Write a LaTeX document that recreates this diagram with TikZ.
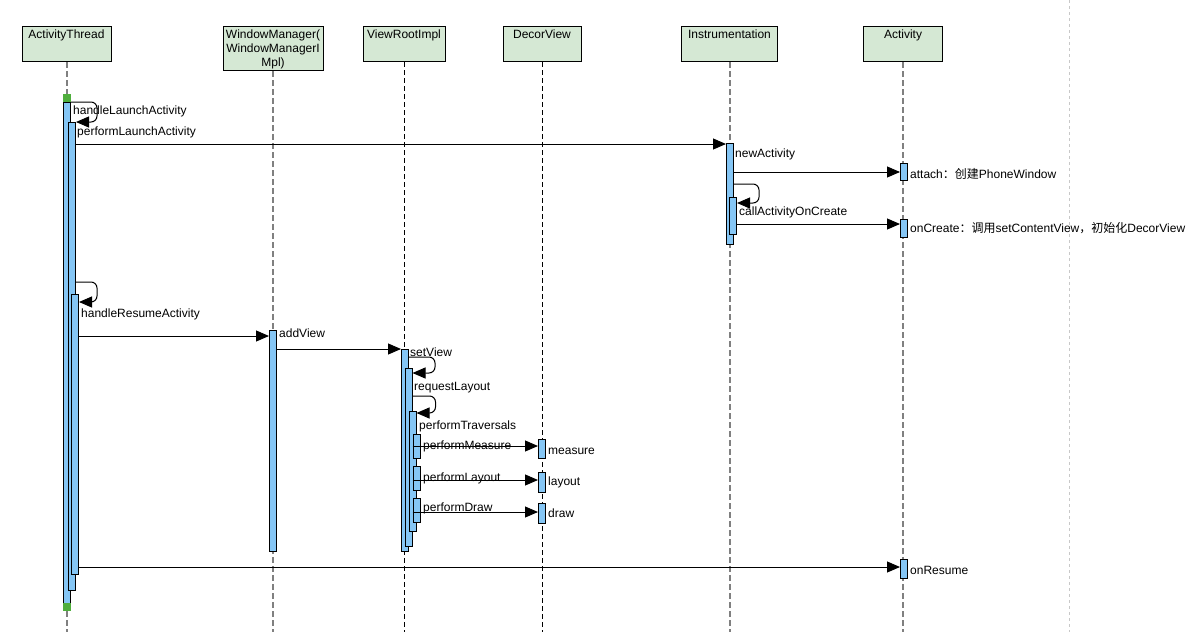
\documentclass[tikz,border=0pt]{standalone}
\usepackage{fontspec}
\setmainfont{Liberation Sans}
\newfontfamily\cjk{Noto Sans CJK SC}
\usetikzlibrary{arrows.meta,positioning}
\definecolor{headfill}{HTML}{D5E8D4}
\definecolor{barfill}{HTML}{85C6F5}
\definecolor{startgreen}{HTML}{4FAE3D}
\definecolor{lifegray}{HTML}{808080}
\definecolor{pagegray}{HTML}{C8C8C8}
\tikzset{
  head/.style={draw=black, fill=headfill, line width=1pt, anchor=north, inner sep=0pt},
  headtext/.style={anchor=north, align=center, inner sep=0pt, font=\fontsize{12}{14}\selectfont},
  bar/.style={draw=black, fill=barfill, line width=1pt, anchor=north, minimum width=7pt, inner sep=0pt},
  endmark/.style={fill=startgreen, minimum size=8pt, inner sep=0pt},
  lifeline/.style={draw=lifegray, line width=2pt, dash pattern=on 6pt off 3pt},
  lifethin/.style={draw=black, line width=0.8pt, dash pattern=on 5pt off 3pt},
  msg/.style={-{Triangle[length=13pt,width=11pt]}, line width=1pt, draw=black},
  selfmsg/.style={msg, rounded corners=6pt},
  lbl/.style={anchor=west, inner sep=0pt, yshift=-1.5pt, font=\fontsize{12}{14}\selectfont}
}

\begin{document}
\begin{tikzpicture}[x=1pt,y=-1pt]
  \useasboundingbox (0,0) rectangle (1201,632);

  % page edge
  \draw[draw=pagegray, line width=0.8pt, dash pattern=on 3pt off 3pt] (1069,0) -- (1069,632);

  % participants
  \node[head, minimum width=89, minimum height=35] (hAT) at (66.5,26) {};
  \node[headtext] (tAT) at (66.5,29.5) {ActivityThread};
  \node[head, minimum width=100, minimum height=44] (hWM) at (273,26) {};
  \node[headtext] (tWM) at (273,29.5) {WindowManager(\\WindowManagerI\\Mpl)};
  \node[head, minimum width=82, minimum height=35] (hVR) at (404,26) {};
  \node[headtext] (tVR) at (404,29.5) {ViewRootImpl};
  \node[head, minimum width=78, minimum height=35] (hDV) at (542,26) {};
  \node[headtext] (tDV) at (542,29.5) {DecorView};
  \node[head, minimum width=96, minimum height=35] (hIN) at (729.5,26) {};
  \node[headtext] (tIN) at (729.5,29.5) {Instrumentation};
  \node[head, minimum width=79, minimum height=35] (hAC) at (903,26) {};
  \node[headtext] (tAC) at (903,29.5) {Activity};

  % lifelines
  \draw[lifeline] (hAT.south) -- (hAT.south |- 0,632);
  \draw[lifeline] (hWM.south) -- (hWM.south |- 0,632);
  \draw[lifethin] (hVR.south) -- (hVR.south |- 0,632);
  \draw[lifethin] (hDV.south) -- (hDV.south |- 0,632);
  \draw[lifeline] (hIN.south) -- (hIN.south |- 0,632);
  \draw[lifeline] (hAC.south) -- (hAC.south |- 0,632);

  % activations
  \node[endmark, anchor=north] (gTop) at (67,94) {};
  \node[bar, minimum height=501] (at1) at (67,102) {};
  \node[endmark, anchor=north] (gBot) at (67,603) {};
  \node[bar, minimum height=468] (at2) at (72,122) {};
  \node[bar, minimum height=280] (at3) at (75,294) {};
  \node[bar, minimum height=221] (wm1) at (273,330) {};
  \node[bar, minimum height=202] (vr1) at (405,349) {};
  \node[bar, minimum height=178] (vr2) at (408.5,368) {};
  \node[bar, minimum height=120] (vr3) at (412.5,411) {};
  \node[bar, minimum height=24] (vm) at (416.5,434) {};
  \node[bar, minimum height=24] (vl) at (416.5,466) {};
  \node[bar, minimum height=24] (vd) at (416.5,498) {};
  \node[bar, minimum height=19] (dm) at (542,439) {};
  \node[bar, minimum height=20] (dl) at (542,472) {};
  \node[bar, minimum height=20] (dd) at (542,503) {};
  \node[bar, minimum height=101] (in1) at (730,143) {};
  \node[bar, minimum height=37] (in2) at (733,197) {};
  \node[bar, minimum height=17] (ac1) at (904,163) {};
  \node[bar, minimum height=18] (ac2) at (904,219) {};
  \node[bar, minimum height=19] (ac3) at (904,559) {};

  % messages
  \draw[selfmsg] (at1.north east) -- ++(26,0) |- (at2.north east);
  \node[lbl] (mLaunch) at (73,110) {handleLaunchActivity};
  \node[lbl] (mPerform) at (77,131) {performLaunchActivity};
  \draw[msg] (at2.east |- 0,144) -- (in1.west |- 0,144);
  \node[lbl] (mNew) at (735,153) {newActivity};
  \draw[msg] (in1.east |- 0,172) -- (ac1.west |- 0,172);
  \node[lbl] (mAttach) at (910,172) {attach{\cjk：创建}PhoneWindow};
  \draw[selfmsg] (in1.east |- 0,184) -- ++(25,0) |- (in2.east |- 0,203);
  \node[lbl] (mCall) at (739,211) {callActivityOnCreate};
  \draw[msg] (in2.east |- 0,224) -- (ac2.west |- 0,224);
  \node[lbl] (mCreate) at (910,227) {onCreate{\cjk：调用}setContentView{\cjk，初始化}DecorView};

  \draw[selfmsg] (at2.east |- 0,282) -- ++(21,0) |- (at3.east |- 0,302);
  \node[lbl] (mResume) at (81,313) {handleResumeActivity};
  \draw[msg] (at3.east |- 0,336) -- (wm1.west |- 0,336);
  \node[lbl] (mAdd) at (279,332) {addView};
  \draw[msg] (wm1.east |- 0,349) -- (vr1.west |- 0,349);
  \node[lbl] (mSet) at (410,351) {setView};
  \draw[selfmsg] (vr1.east |- 0,357) -- ++(26,0) |- (vr2.east |- 0,373);
  \node[lbl] (mReq) at (414,386) {requestLayout};
  \draw[selfmsg] (vr2.east |- 0,396) -- ++(23,0) |- (vr3.east |- 0,413);
  \node[lbl] (mTrav) at (419,425) {performTraversals};

  \node[lbl] (mPM) at (423,445) {performMeasure};
  \draw[msg] (vm.west |- 0,446) -- (dm.west |- 0,446);
  \node[lbl] (mM) at (548,450) {measure};
  \node[lbl] (mPL) at (423,477) {performLayout};
  \draw[msg] (vl.west |- 0,480) -- (dl.west |- 0,480);
  \node[lbl] (mL) at (548,481) {layout};
  \node[lbl] (mPD) at (423,507) {performDraw};
  \draw[msg] (vd.west |- 0,512) -- (dd.west |- 0,512);
  \node[lbl] (mD) at (548,512) {draw};

  \draw[msg] (at3.east |- 0,567) -- (ac3.west |- 0,567);
  \node[lbl] (mOnRes) at (910,569) {onResume};
\end{tikzpicture}
\end{document}
